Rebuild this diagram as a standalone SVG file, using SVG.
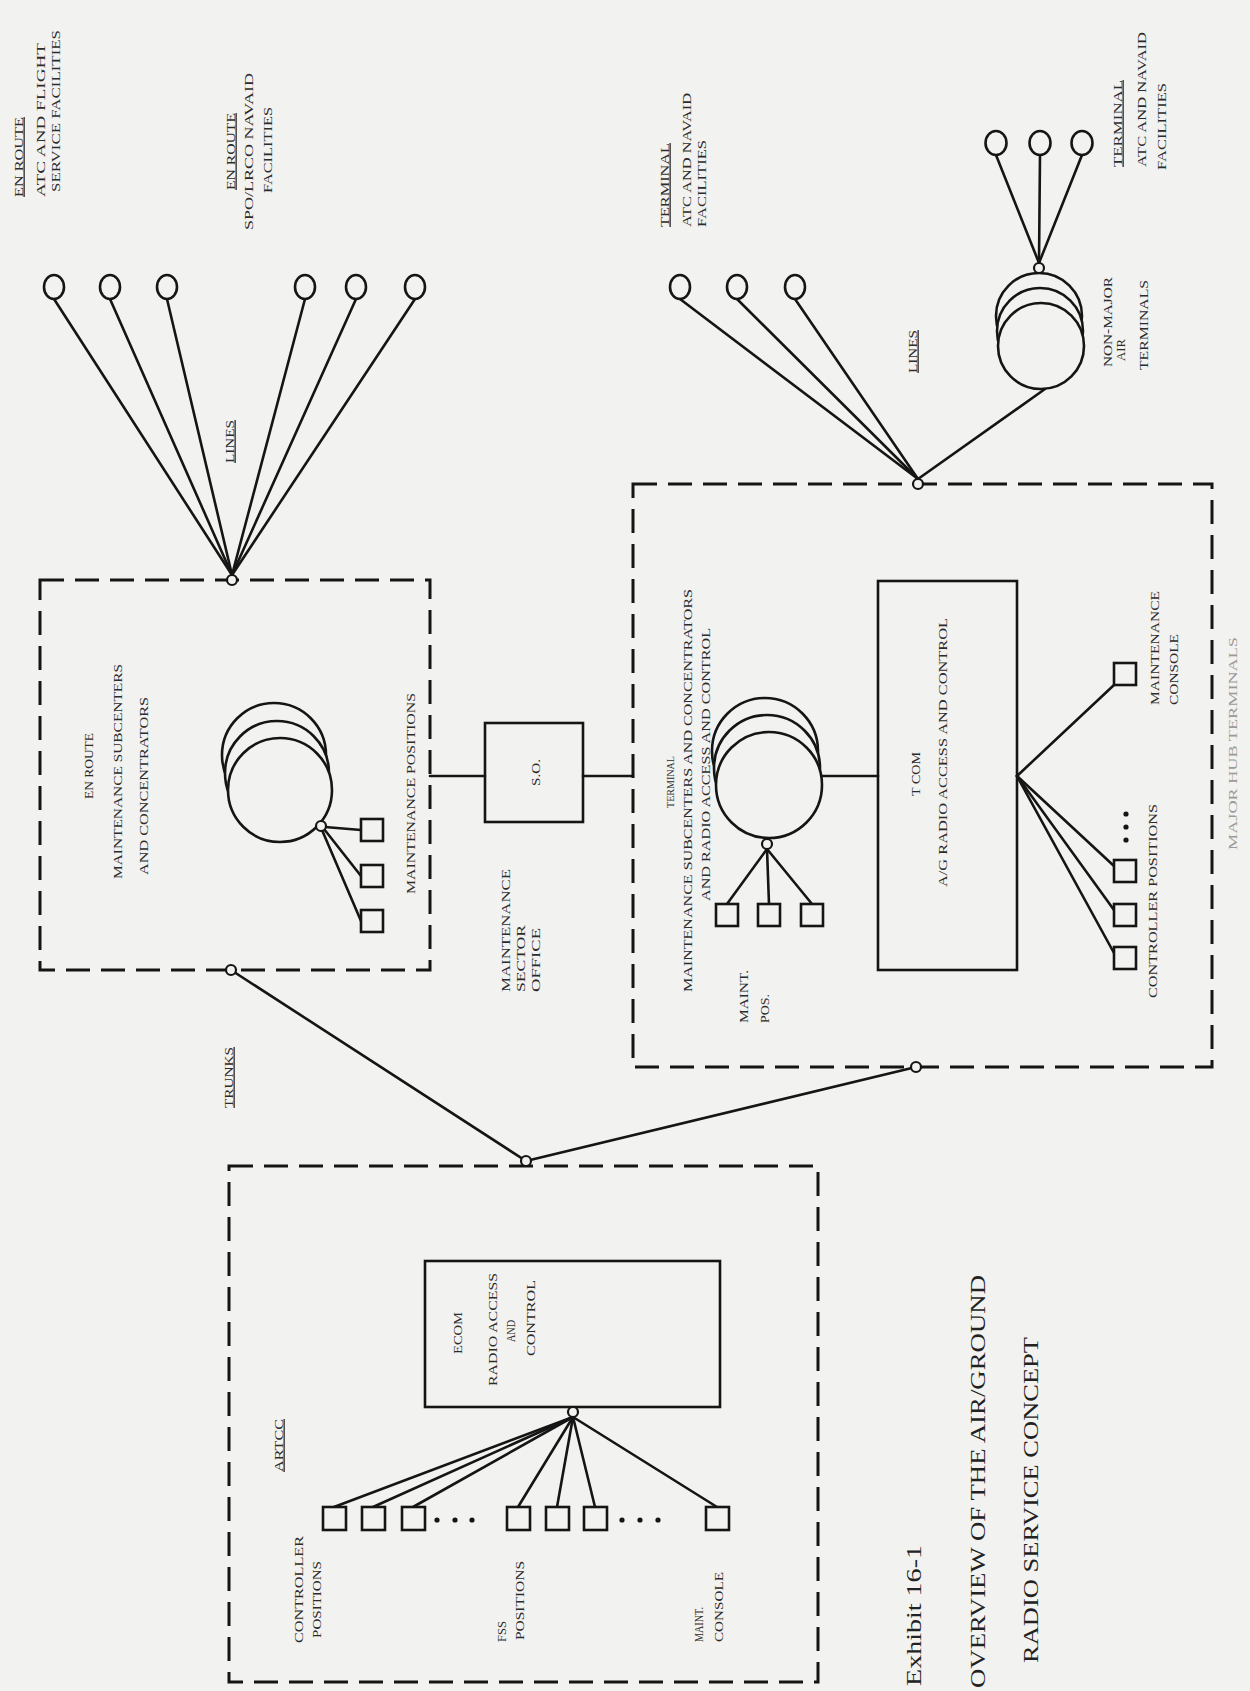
<svg xmlns="http://www.w3.org/2000/svg" width="1250" height="1691" viewBox="0 0 1250 1691">
<style>
.ln{stroke:#151515;stroke-width:2.6;fill:none;stroke-linecap:round}
.db{stroke:#151515;stroke-width:3;fill:none;stroke-dasharray:24 11}
.bx{stroke:#151515;stroke-width:2.6;fill:none}
.sq{stroke:#151515;stroke-width:2.6;fill:#f2f2f0}
.disk{stroke:#151515;stroke-width:2.6;fill:#f2f2f0}
.jn{stroke:#151515;stroke-width:2.2;fill:#f2f2f0}
.dot{fill:#151515}
.t{font-family:"Liberation Serif","Times New Roman",serif;font-size:13px;fill:#2b2b2b}
.u{text-decoration:underline}
.big{font-size:22px;fill:#222}
.sm{font-size:11px}
.faint{fill:#9a9a9a;font-size:12px}
</style>
<rect x="0" y="0" width="1250" height="1691" fill="#f2f2f0"/>

<g id="connectors">
  <line class="ln" x1="232" y1="575" x2="54" y2="299"/>
  <line class="ln" x1="232" y1="575" x2="110" y2="299"/>
  <line class="ln" x1="232" y1="575" x2="167" y2="299"/>
  <line class="ln" x1="232" y1="575" x2="305" y2="299"/>
  <line class="ln" x1="232" y1="575" x2="356" y2="299"/>
  <line class="ln" x1="232" y1="575" x2="415" y2="299"/>
  <line class="ln" x1="918" y1="479" x2="680" y2="299"/>
  <line class="ln" x1="918" y1="479" x2="737" y2="299"/>
  <line class="ln" x1="918" y1="479" x2="795" y2="299"/>
  <line class="ln" x1="918" y1="479" x2="1045" y2="389"/>
  <line class="ln" x1="1039" y1="263" x2="996" y2="155"/>
  <line class="ln" x1="1039" y1="263" x2="1040" y2="155"/>
  <line class="ln" x1="1039" y1="263" x2="1082" y2="155"/>
  <line class="ln" x1="231" y1="970" x2="526" y2="1161"/>
  <line class="ln" x1="526" y1="1161" x2="916" y2="1067"/>
  <line class="ln" x1="430" y1="776" x2="485" y2="776"/>
  <line class="ln" x1="583" y1="776" x2="633" y2="776"/>
  <line class="ln" x1="325" y1="827" x2="361" y2="830"/>
  <line class="ln" x1="324" y1="829" x2="361" y2="876"/>
  <line class="ln" x1="322" y1="830" x2="361" y2="921"/>
  <line class="ln" x1="822" y1="776" x2="878" y2="776"/>
  <line class="ln" x1="767" y1="849" x2="727" y2="904"/>
  <line class="ln" x1="767" y1="849" x2="769" y2="904"/>
  <line class="ln" x1="767" y1="849" x2="812" y2="904"/>
  <line class="ln" x1="1017" y1="776" x2="1114" y2="685"/>
  <line class="ln" x1="1017" y1="776" x2="1114" y2="866"/>
  <line class="ln" x1="1017" y1="776" x2="1114" y2="910"/>
  <line class="ln" x1="1017" y1="776" x2="1114" y2="953"/>
  <line class="ln" x1="573" y1="1417" x2="334" y2="1507"/>
  <line class="ln" x1="573" y1="1417" x2="373" y2="1507"/>
  <line class="ln" x1="573" y1="1417" x2="413" y2="1507"/>
  <line class="ln" x1="573" y1="1417" x2="518" y2="1507"/>
  <line class="ln" x1="573" y1="1417" x2="557" y2="1507"/>
  <line class="ln" x1="573" y1="1417" x2="595" y2="1507"/>
  <line class="ln" x1="573" y1="1417" x2="717" y2="1507"/>
</g>

<g id="enroute-facilities">
  <ellipse class="disk" cx="54" cy="287" rx="10" ry="12"/>
  <ellipse class="disk" cx="110" cy="287" rx="10" ry="12"/>
  <ellipse class="disk" cx="167" cy="287" rx="10" ry="12"/>
  <ellipse class="disk" cx="305" cy="287" rx="10" ry="12"/>
  <ellipse class="disk" cx="356" cy="287" rx="10" ry="12"/>
  <ellipse class="disk" cx="415" cy="287" rx="10" ry="12"/>
  <text class="t u" transform="translate(22.5,157) rotate(-90)" text-anchor="middle" textLength="80" lengthAdjust="spacingAndGlyphs">EN ROUTE</text>
  <text class="t" transform="translate(44.5,120) rotate(-90)" text-anchor="middle" textLength="154" lengthAdjust="spacingAndGlyphs">ATC AND FLIGHT</text>
  <text class="t" transform="translate(59.5,111) rotate(-90)" text-anchor="middle" textLength="162" lengthAdjust="spacingAndGlyphs">SERVICE FACILITIES</text>
  <text class="t u" transform="translate(234.5,151.5) rotate(-90)" text-anchor="middle" textLength="77" lengthAdjust="spacingAndGlyphs">EN ROUTE</text>
  <text class="t" transform="translate(252.5,151.5) rotate(-90)" text-anchor="middle" textLength="157" lengthAdjust="spacingAndGlyphs">SPO/LRCO NAVAID</text>
  <text class="t" transform="translate(271.5,150) rotate(-90)" text-anchor="middle" textLength="86" lengthAdjust="spacingAndGlyphs">FACILITIES</text>
  <text class="t u" transform="translate(233.5,441.5) rotate(-90)" text-anchor="middle" textLength="43" lengthAdjust="spacingAndGlyphs">LINES</text>
</g>

<g id="terminal-facilities">
  <ellipse class="disk" cx="680" cy="287" rx="10" ry="12"/>
  <ellipse class="disk" cx="737" cy="287" rx="10" ry="12"/>
  <ellipse class="disk" cx="795" cy="287" rx="10" ry="12"/>
  <text class="t u" transform="translate(668.5,185) rotate(-90)" text-anchor="middle" textLength="84" lengthAdjust="spacingAndGlyphs">TERMINAL</text>
  <text class="t" transform="translate(690.5,160) rotate(-90)" text-anchor="middle" textLength="134" lengthAdjust="spacingAndGlyphs">ATC AND NAVAID</text>
  <text class="t" transform="translate(705.5,183.5) rotate(-90)" text-anchor="middle" textLength="87" lengthAdjust="spacingAndGlyphs">FACILITIES</text>
  <text class="t u" transform="translate(916.5,351.5) rotate(-90)" text-anchor="middle" textLength="43" lengthAdjust="spacingAndGlyphs">LINES</text>
</g>

<g id="non-major-terminals">
  <ellipse class="disk" cx="996" cy="143" rx="10.5" ry="12"/>
  <ellipse class="disk" cx="1040" cy="143" rx="10.5" ry="12"/>
  <ellipse class="disk" cx="1082" cy="143" rx="10.5" ry="12"/>
  <circle class="disk" cx="1039" cy="316" r="43"/>
  <circle class="disk" cx="1040" cy="331" r="43"/>
  <circle class="disk" cx="1041" cy="346" r="43"/>
  <circle class="jn" cx="1039" cy="268" r="5"/>
  <text class="t u" transform="translate(1121.5,123.5) rotate(-90)" text-anchor="middle" textLength="87" lengthAdjust="spacingAndGlyphs">TERMINAL</text>
  <text class="t" transform="translate(1145.5,99.5) rotate(-90)" text-anchor="middle" textLength="135" lengthAdjust="spacingAndGlyphs">ATC AND NAVAID</text>
  <text class="t" transform="translate(1165.5,126.5) rotate(-90)" text-anchor="middle" textLength="87" lengthAdjust="spacingAndGlyphs">FACILITIES</text>
  <text class="t" transform="translate(1111.5,322) rotate(-90)" text-anchor="middle" textLength="90" lengthAdjust="spacingAndGlyphs">NON-MAJOR</text>
  <text class="t" transform="translate(1124.5,350) rotate(-90)" text-anchor="middle" textLength="22" lengthAdjust="spacingAndGlyphs">AIR</text>
  <text class="t" transform="translate(1147.5,325) rotate(-90)" text-anchor="middle" textLength="90" lengthAdjust="spacingAndGlyphs">TERMINALS</text>
</g>

<g id="enroute-subcenters">
  <rect class="db" x="40" y="580" width="390" height="390"/>
  <circle class="jn" cx="232" cy="580" r="5"/>
  <circle class="jn" cx="231" cy="970" r="5"/>
  <circle class="disk" cx="274" cy="755" r="52"/>
  <circle class="disk" cx="277" cy="773" r="52"/>
  <circle class="disk" cx="280" cy="790" r="52"/>
  <circle class="jn" cx="321" cy="826" r="5"/>
  <rect class="sq" x="361" y="819" width="22" height="22"/>
  <rect class="sq" x="361" y="865" width="22" height="22"/>
  <rect class="sq" x="361" y="910" width="22" height="22"/>
  <text class="t" transform="translate(92.5,766) rotate(-90)" text-anchor="middle" textLength="66" lengthAdjust="spacingAndGlyphs">EN ROUTE</text>
  <text class="t" transform="translate(121.5,771.5) rotate(-90)" text-anchor="middle" textLength="215" lengthAdjust="spacingAndGlyphs">MAINTENANCE SUBCENTERS</text>
  <text class="t" transform="translate(147.5,786) rotate(-90)" text-anchor="middle" textLength="178" lengthAdjust="spacingAndGlyphs">AND CONCENTRATORS</text>
  <text class="t" transform="translate(414.5,793.5) rotate(-90)" text-anchor="middle" textLength="201" lengthAdjust="spacingAndGlyphs">MAINTENANCE POSITIONS</text>
</g>

<g id="maintenance-sector-office">
  <rect class="bx" x="485" y="723" width="98" height="99"/>
  <text class="t" transform="translate(539.5,772.5) rotate(-90)" text-anchor="middle" textLength="27" lengthAdjust="spacingAndGlyphs">S.O.</text>
  <text class="t" transform="translate(509.5,930.5) rotate(-90)" text-anchor="middle" textLength="123" lengthAdjust="spacingAndGlyphs">MAINTENANCE</text>
  <text class="t" transform="translate(524.5,958.5) rotate(-90)" text-anchor="middle" textLength="67" lengthAdjust="spacingAndGlyphs">SECTOR</text>
  <text class="t" transform="translate(539.5,960) rotate(-90)" text-anchor="middle" textLength="64" lengthAdjust="spacingAndGlyphs">OFFICE</text>
</g>

<g id="terminal-subcenters">
  <rect class="db" x="633" y="484" width="579" height="583"/>
  <circle class="jn" cx="918" cy="484" r="5"/>
  <circle class="jn" cx="916" cy="1067" r="5"/>
  <circle class="disk" cx="765" cy="751" r="53"/>
  <circle class="disk" cx="767" cy="768" r="53"/>
  <circle class="disk" cx="769" cy="785" r="53"/>
  <circle class="jn" cx="767" cy="844" r="5"/>
  <rect class="sq" x="716" y="904" width="22" height="22"/>
  <rect class="sq" x="758" y="904" width="22" height="22"/>
  <rect class="sq" x="801" y="904" width="22" height="22"/>
  <text class="t sm" transform="translate(674,782) rotate(-90)" text-anchor="middle" textLength="52" lengthAdjust="spacingAndGlyphs">TERMINAL</text>
  <text class="t" transform="translate(691.5,790.5) rotate(-90)" text-anchor="middle" textLength="403" lengthAdjust="spacingAndGlyphs">MAINTENANCE SUBCENTERS AND CONCENTRATORS</text>
  <text class="t" transform="translate(709.5,764.5) rotate(-90)" text-anchor="middle" textLength="273" lengthAdjust="spacingAndGlyphs">AND RADIO ACCESS AND CONTROL</text>
  <text class="t" transform="translate(747.5,996.5) rotate(-90)" text-anchor="middle" textLength="53" lengthAdjust="spacingAndGlyphs">MAINT.</text>
  <text class="t" transform="translate(768.5,1008.5) rotate(-90)" text-anchor="middle" textLength="29" lengthAdjust="spacingAndGlyphs">POS.</text>
  <text class="t faint" transform="translate(1237,743.5) rotate(-90)" text-anchor="middle" textLength="213" lengthAdjust="spacingAndGlyphs">MAJOR HUB TERMINALS</text>
</g>

<g id="tcom">
  <rect class="bx" x="878" y="581" width="139" height="389"/>
  <text class="t" transform="translate(919.5,774) rotate(-90)" text-anchor="middle" textLength="44" lengthAdjust="spacingAndGlyphs">T COM</text>
  <text class="t" transform="translate(946.5,752.5) rotate(-90)" text-anchor="middle" textLength="269" lengthAdjust="spacingAndGlyphs">A/G RADIO ACCESS AND CONTROL</text>
</g>

<g id="terminal-positions">
  <rect class="sq" x="1114" y="663" width="22" height="22"/>
  <rect class="sq" x="1114" y="860" width="22" height="22"/>
  <rect class="sq" x="1114" y="904" width="22" height="22"/>
  <rect class="sq" x="1114" y="947" width="22" height="22"/>
  <circle class="dot" cx="1126" cy="814" r="2.6"/>
  <circle class="dot" cx="1126" cy="827" r="2.6"/>
  <circle class="dot" cx="1126" cy="840" r="2.6"/>
  <text class="t" transform="translate(1158.5,648) rotate(-90)" text-anchor="middle" textLength="114" lengthAdjust="spacingAndGlyphs">MAINTENANCE</text>
  <text class="t" transform="translate(1177.5,669.5) rotate(-90)" text-anchor="middle" textLength="71" lengthAdjust="spacingAndGlyphs">CONSOLE</text>
  <text class="t" transform="translate(1156.5,901) rotate(-90)" text-anchor="middle" textLength="194" lengthAdjust="spacingAndGlyphs">CONTROLLER POSITIONS</text>
</g>

<g id="trunks-label">
  <text class="t u" transform="translate(232.5,1077.5) rotate(-90)" text-anchor="middle" textLength="61" lengthAdjust="spacingAndGlyphs">TRUNKS</text>
</g>

<g id="artcc">
  <rect class="db" x="229" y="1166" width="589" height="516"/>
  <circle class="jn" cx="526" cy="1161" r="5"/>
  <text class="t u" transform="translate(282.5,1445.5) rotate(-90)" text-anchor="middle" textLength="53" lengthAdjust="spacingAndGlyphs">ARTCC</text>
</g>

<g id="ecom">
  <rect class="bx" x="425" y="1261" width="295" height="146"/>
  <circle class="jn" cx="573" cy="1412" r="5"/>
  <text class="t" transform="translate(461.5,1333) rotate(-90)" text-anchor="middle" textLength="42" lengthAdjust="spacingAndGlyphs">ECOM</text>
  <text class="t" transform="translate(496.5,1329.5) rotate(-90)" text-anchor="middle" textLength="113" lengthAdjust="spacingAndGlyphs">RADIO ACCESS</text>
  <text class="t" transform="translate(514.5,1331) rotate(-90)" text-anchor="middle" textLength="22" lengthAdjust="spacingAndGlyphs">AND</text>
  <text class="t" transform="translate(534.5,1318) rotate(-90)" text-anchor="middle" textLength="76" lengthAdjust="spacingAndGlyphs">CONTROL</text>
</g>

<g id="artcc-positions">
  <rect class="sq" x="323" y="1507" width="23" height="23"/>
  <rect class="sq" x="362" y="1507" width="23" height="23"/>
  <rect class="sq" x="402" y="1507" width="23" height="23"/>
  <rect class="sq" x="507" y="1507" width="23" height="23"/>
  <rect class="sq" x="546" y="1507" width="23" height="23"/>
  <rect class="sq" x="584" y="1507" width="23" height="23"/>
  <rect class="sq" x="706" y="1507" width="23" height="23"/>
  <circle class="dot" cx="437" cy="1520" r="2.6"/>
  <circle class="dot" cx="455" cy="1520" r="2.6"/>
  <circle class="dot" cx="472" cy="1520" r="2.6"/>
  <circle class="dot" cx="622" cy="1520" r="2.6"/>
  <circle class="dot" cx="640" cy="1520" r="2.6"/>
  <circle class="dot" cx="658" cy="1520" r="2.6"/>
  <text class="t" transform="translate(302.5,1589.5) rotate(-90)" text-anchor="middle" textLength="107" lengthAdjust="spacingAndGlyphs">CONTROLLER</text>
  <text class="t" transform="translate(320.5,1599.5) rotate(-90)" text-anchor="middle" textLength="77" lengthAdjust="spacingAndGlyphs">POSITIONS</text>
  <text class="t" transform="translate(505.5,1631.5) rotate(-90)" text-anchor="middle" textLength="21" lengthAdjust="spacingAndGlyphs">FSS</text>
  <text class="t" transform="translate(523.5,1600.5) rotate(-90)" text-anchor="middle" textLength="79" lengthAdjust="spacingAndGlyphs">POSITIONS</text>
  <text class="t" transform="translate(702.5,1624.5) rotate(-90)" text-anchor="middle" textLength="35" lengthAdjust="spacingAndGlyphs">MAINT.</text>
  <text class="t" transform="translate(722.5,1607) rotate(-90)" text-anchor="middle" textLength="70" lengthAdjust="spacingAndGlyphs">CONSOLE</text>
</g>

<g id="caption">
  <text class="t big" transform="translate(920.5,1615.5) rotate(-90)" text-anchor="middle" textLength="141" lengthAdjust="spacingAndGlyphs">Exhibit 16-1</text>
  <text class="t big" transform="translate(984.5,1481.5) rotate(-90)" text-anchor="middle" textLength="413" lengthAdjust="spacingAndGlyphs">OVERVIEW OF THE AIR/GROUND</text>
  <text class="t big" transform="translate(1037.5,1500) rotate(-90)" text-anchor="middle" textLength="326" lengthAdjust="spacingAndGlyphs">RADIO SERVICE CONCEPT</text>
</g>
</svg>
